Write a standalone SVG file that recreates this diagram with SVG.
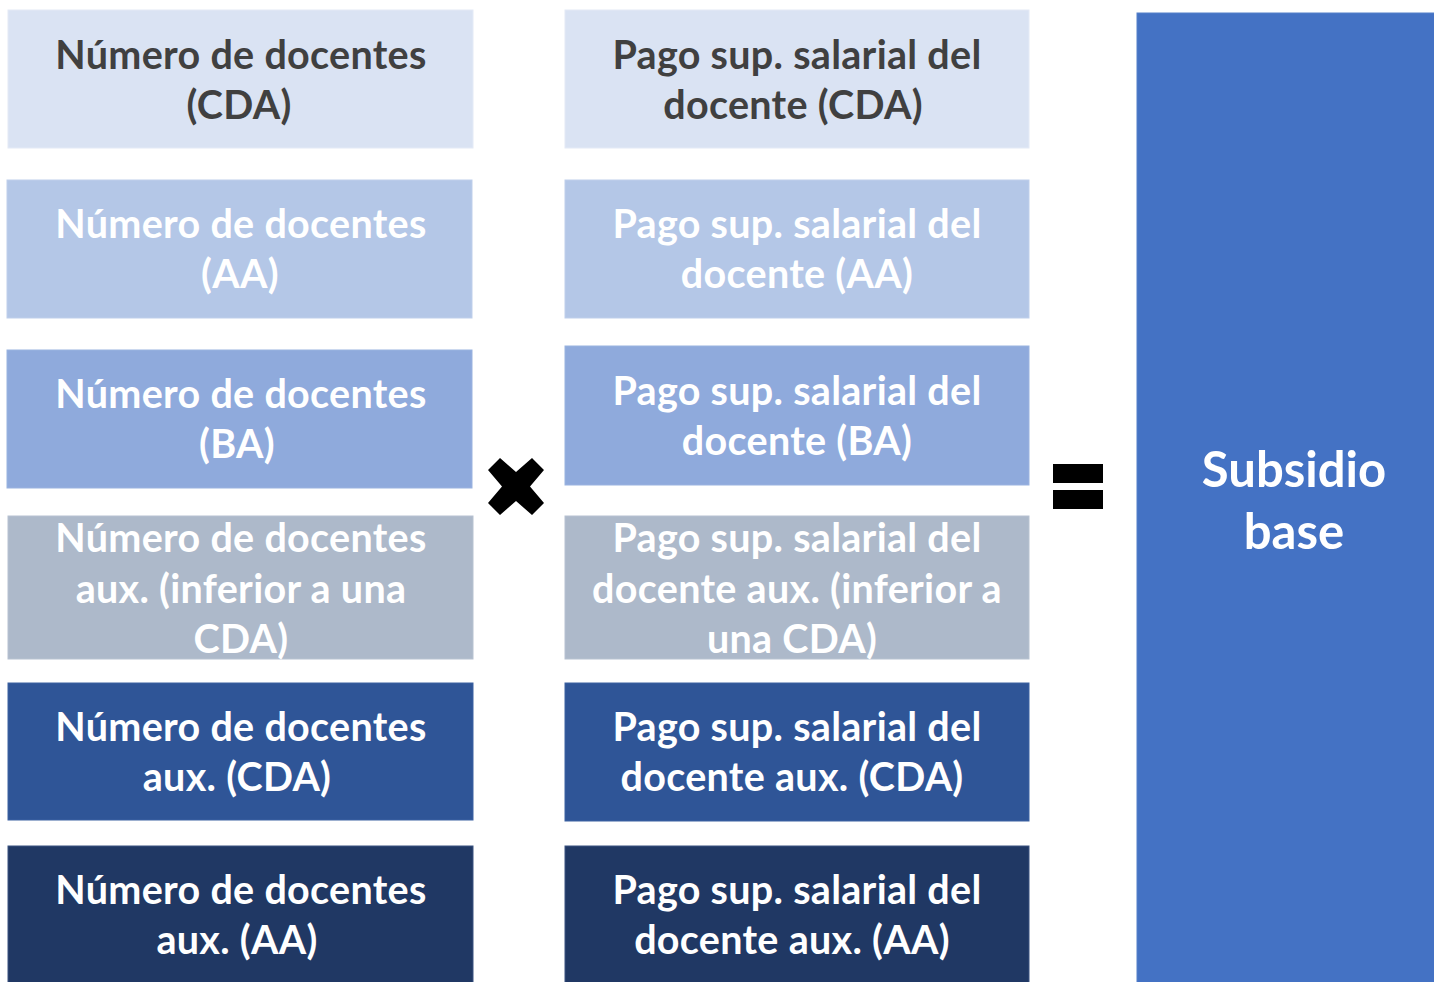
<svg xmlns="http://www.w3.org/2000/svg" width="1434" height="982" viewBox="0 0 1434 982">
<style>
  .box { stroke-width: 1; }
  .t { font-family: Lato, "Open Sans", "Liberation Sans", sans-serif; font-weight: bold; font-size: 39.5px; letter-spacing: 0.3px; text-anchor: middle; fill: #ffffff; }
  .dark { fill: #404040; }
  .big { font-size: 49px; letter-spacing: 0; }
  .c1 { fill: #DAE3F3; stroke: #E4EAF6; }
  .c2 { fill: #B4C7E7; stroke: #BFCFEB; }
  .c3 { fill: #8FAADC; stroke: #9AB3E0; }
  .c4 { fill: #ADB9CA; stroke: #B7C2D1; }
  .c5 { fill: #2F5597; stroke: #3D62A2; }
  .c6 { fill: #203864; stroke: #3A5380; }
  .c7 { fill: #4472C4; stroke: #5580CA; }
</style>
<rect width="1434" height="982" fill="#ffffff"/>
<g id="connectors"></g>

<g id="n-left-1"><rect class="box c1" x="8" y="10" width="465" height="138"/>
  <text class="t dark" x="241" y="68.5">Número de docentes</text>
  <text class="t dark" x="239" y="118.5">(CDA)</text></g>
<g id="n-left-2"><rect class="box c2" x="7" y="180" width="465" height="138"/>
  <text class="t" x="241" y="238">Número de docentes</text>
  <text class="t" x="240" y="288">(AA)</text></g>
<g id="n-left-3"><rect class="box c3" x="7" y="350" width="465" height="138"/>
  <text class="t" x="241" y="408">Número de docentes</text>
  <text class="t" x="237" y="458">(BA)</text></g>
<g id="n-left-4"><rect class="box c4" x="8" y="516" width="465" height="143"/>
  <text class="t" x="241" y="552">Número de docentes</text>
  <text class="t" x="241" y="603">aux. (inferior a una</text>
  <text class="t" x="241" y="653">CDA)</text></g>
<g id="n-left-5"><rect class="box c5" x="8" y="683" width="465" height="137"/>
  <text class="t" x="241" y="741">Número de docentes</text>
  <text class="t" x="237" y="791">aux. (CDA)</text></g>
<g id="n-left-6"><rect class="box c6" x="8" y="846" width="465" height="137"/>
  <text class="t" x="241" y="904">Número de docentes</text>
  <text class="t" x="237" y="954">aux. (AA)</text></g>

<g id="n-right-1"><rect class="box c1" x="565" y="10" width="464" height="138"/>
  <text class="t dark" x="797" y="68.5">Pago sup. salarial del</text>
  <text class="t dark" x="793" y="118.5">docente (CDA)</text></g>
<g id="n-right-2"><rect class="box c2" x="565" y="180" width="464" height="138"/>
  <text class="t" x="797" y="238">Pago sup. salarial del</text>
  <text class="t" x="797" y="288">docente (AA)</text></g>
<g id="n-right-3"><rect class="box c3" x="565" y="346" width="464" height="139"/>
  <text class="t" x="797" y="405">Pago sup. salarial del</text>
  <text class="t" x="797" y="455">docente (BA)</text></g>
<g id="n-right-4"><rect class="box c4" x="565" y="516" width="464" height="143"/>
  <text class="t" x="797" y="552">Pago sup. salarial del</text>
  <text class="t" x="797" y="603">docente aux. (inferior a</text>
  <text class="t" x="792" y="653">una CDA)</text></g>
<g id="n-right-5"><rect class="box c5" x="565" y="683" width="464" height="138"/>
  <text class="t" x="797" y="741">Pago sup. salarial del</text>
  <text class="t" x="792" y="791">docente aux. (CDA)</text></g>
<g id="n-right-6"><rect class="box c6" x="565" y="846" width="464" height="137"/>
  <text class="t" x="797" y="904">Pago sup. salarial del</text>
  <text class="t" x="792" y="954">docente aux. (AA)</text></g>

<g id="n-times"><polygon fill="#000000" points="488,470 500,458 516,472 532,458 544,470 530,486.5 544,503 532,515 516,501 500,515 488,503 502,486.5"/></g>
<g id="n-equals"><rect x="1053" y="464" width="50" height="19" fill="#000000"/><rect x="1053" y="490" width="50" height="19" fill="#000000"/></g>

<g id="n-result"><rect class="box c7" x="1137" y="13" width="298" height="970"/>
  <text class="t big" x="1294" y="487">Subsidio</text>
  <text class="t big" x="1294" y="549">base</text></g>
</svg>
